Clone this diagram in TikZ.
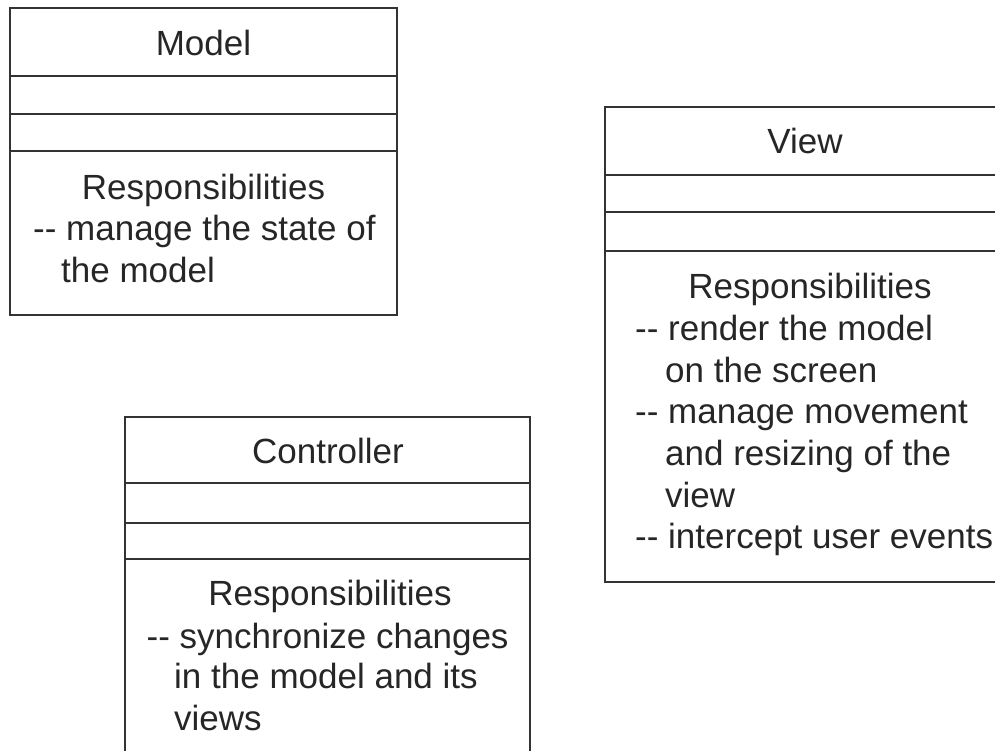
\documentclass[tikz,border=0pt]{standalone}
\usepackage{fontspec}
\newfontfamily\arial{Liberation Sans}
\begin{document}
\begin{tikzpicture}[x=1pt,y=-1pt,
  box/.style={draw=black!80, line width=1.6pt},
  sep/.style={draw=black!80, line width=1.6pt},
  txt/.style={inner sep=0pt, font=\arial\fontsize{35}{41}\selectfont, text=black!85},
  ctr/.style={txt, anchor=base},
  lft/.style={txt, anchor=base west}]
\useasboundingbox (0,0) rectangle (995,750);
\clip (0,0) rectangle (995,750);
% Model
\draw[box] (10,8) rectangle (397,315);
\draw[sep] (10,76) -- (397,76);
\draw[sep] (10,114) -- (397,114);
\draw[sep] (10,151) -- (397,151);
\node[ctr] (mt) at (203.5,55) {Model};
\node[ctr] (mr) at (203.5,199) {Responsibilities};
\node[lft] (m1) at (33,240) {-{}- manage the state of};
\node[lft] (m2) at (61,282) {the model};
% View
\draw[box] (605,107) rectangle (1005,582);
\draw[sep] (605,175) -- (1005,175);
\draw[sep] (605,212) -- (1005,212);
\draw[sep] (605,251) -- (1005,251);
\node[ctr] (vt) at (805,153) {View};
\node[ctr] (vr) at (810,298) {Responsibilities};
\node[lft] (v1) at (635,340) {-{}- render the model};
\node[lft] (v2) at (665,382) {on the screen};
\node[lft] (v3) at (635,423) {-{}- manage movement};
\node[lft] (v4) at (665,465) {and resizing of the};
\node[lft] (v5) at (665,507) {view};
\node[lft] (v6) at (635,548) {-{}- intercept user events};
% Controller
\draw[box] (125,417) rectangle (530,770);
\draw[sep] (125,483) -- (530,483);
\draw[sep] (125,523) -- (530,523);
\draw[sep] (125,559) -- (530,559);
\node[ctr] (ct) at (328,463) {Controller};
\node[ctr] (cr) at (330,605) {Responsibilities};
\node[lft] (c1) at (146.5,648) {-{}- synchronize changes};
\node[lft] (c2) at (174,688) {in the model and its};
\node[lft] (c3) at (174,730) {views};
\end{tikzpicture}
\end{document}
